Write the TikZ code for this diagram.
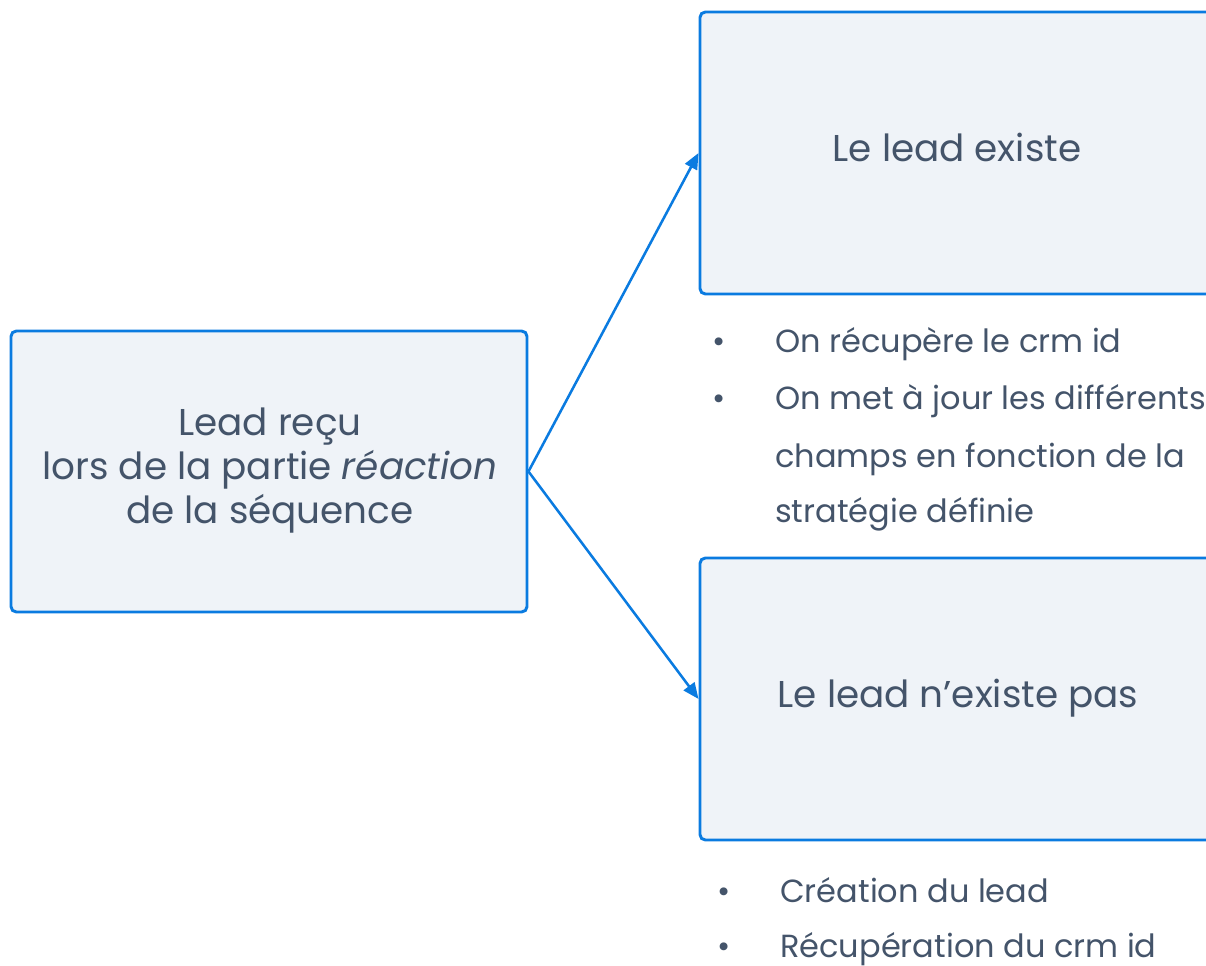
\documentclass[tikz,border=0pt]{standalone}
\usepackage{fontspec}
\setmainfont{Poppins}
\usetikzlibrary{arrows.meta}
\definecolor{bordercol}{HTML}{0A7BE0}
\definecolor{fillcol}{HTML}{EFF3F8}
\definecolor{textcol}{HTML}{44546A}
\tikzset{
  box/.style={draw=bordercol, fill=fillcol, line width=2.2pt, rounded corners=4pt, inner sep=0pt},
  boxtext/.style={anchor=base, inner sep=0pt, text=textcol, font=\fontsize{28}{33}\selectfont},
  conn/.style={draw=bordercol, line width=1.9pt, -{Triangle[length=12pt,width=10pt]}},
  bul/.style={anchor=base west, inner sep=0pt, text=textcol, font=\fontsize{24}{30}\selectfont},
}
\begin{document}
\begin{tikzpicture}[x=0.75pt,y=-0.75pt]
\useasboundingbox (0,0) rectangle (1206,966);
\begin{scope}
\clip (0,0) rectangle (1206,966);
\node[box, minimum width=387pt, minimum height=210.75pt] (lead) at (269,471.5) {};
\node[box, minimum width=384.75pt, minimum height=211.5pt] (exist) at (956.5,153) {};
\node[box, minimum width=384.75pt, minimum height=211.5pt] (noexist) at (956.5,699) {};
\end{scope}
\node[boxtext] (l1) at (270,435) {Lead reçu};
\node[boxtext] (l2) at (270,479) {lors de la partie \textit{réaction}};
\node[boxtext] (l3) at (270,523) {de la séquence};
\node[boxtext] (e1) at (957,162) {Le lead existe};
\node[boxtext] (n1) at (958,707) {Le lead n’existe pas};
\draw[conn] (lead.east) -- (exist.west);
\draw[conn] (lead.east) -- (noexist.west);
\node[bul] (b1) at (712,352) {•};
\node[bul] (t1) at (775,352) {On récupère le crm id};
\node[bul] (b2) at (712,409) {•};
\node[bul] (t2) at (775,409) {On met à jour les différents};
\node[bul] (t3) at (775,467) {champs en fonction de la};
\node[bul] (t4) at (775,522) {stratégie définie};
\node[bul] (b3) at (717,902) {•};
\node[bul] (t5) at (780,902) {Création du lead};
\node[bul] (b4) at (717,957) {•};
\node[bul] (t6) at (780,957) {Récupération du crm id};
\end{tikzpicture}
\end{document}
